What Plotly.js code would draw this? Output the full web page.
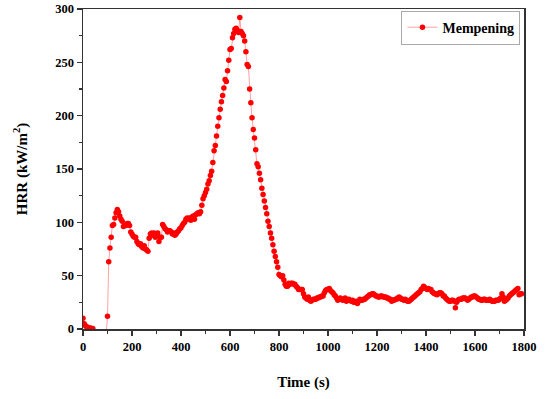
<!DOCTYPE html>
<html>
<head>
<meta charset="utf-8">
<script src="https://cdn.plot.ly/plotly-3.0.1.min.js"></script>
<style>html,body{margin:0;padding:0;background:#fff;}#chart{width:545px;height:399px;}</style>
</head>
<body>
<div id="chart"></div>
<script>
// Time step of the record (s) and start time
const timeStart = 0;
const timeStep = 5;
// HRR (kW/m^2) read every 5 s from 0 s to 1790 s (points 45-95 s lie below the axis)
const hrr = [
  10, 5, 3, 2, 1.5, 1, 1, 0.5, 0.5,
  -3, -3, -3, -3, -3, -3, -3, -3, -3, -3, -3,
  12, 63, 76, 86, 97, 98, 104, 109, 112, 110,
  106, 103, 101, 96, 97, 97, 99, 99, 97, 91,
  89, 87, 86, 86, 82, 80, 79, 80, 77, 76,
  78, 75, 74, 73, 85, 89, 90, 88, 90, 86,
  88, 90, 82, 86, 86, 98, 96, 94, 93, 91,
  92, 92, 91, 89, 90, 88, 89, 91, 92, 94,
  95, 97, 99, 100, 103, 104, 103, 104, 102, 105,
  106, 103, 107, 108, 109, 108, 110, 116, 122, 125,
  128, 131, 136, 139, 144, 148, 156, 167, 172, 181,
  190, 198, 206, 213, 219, 226, 234, 232, 242, 252,
  262, 263, 273, 277, 281, 282, 280, 278, 292, 279,
  277, 275, 270, 260, 248, 246, 225, 212, 198, 187,
  179, 168, 155, 152, 146, 140, 132, 126, 120, 114,
  108, 101, 96, 90, 85, 79, 73, 68, 63, 58,
  51, 50, 49, 50, 46, 42, 40, 40, 43, 42,
  43, 43, 42, 42, 40, 39, 37, 37, 37, 37,
  33, 30, 29, 28, 30, 27, 26, 27, 28, 28,
  28, 29, 29, 30, 30, 31, 31, 34, 36, 37,
  37, 38, 36, 35, 34, 32, 31, 29, 27, 28,
  29, 28, 27, 28, 29, 26, 27, 28, 27, 26,
  27, 25, 25, 26, 24, 26, 28, 27, 27, 28,
  28, 29, 30, 31, 32, 32, 33, 33, 32, 31,
  31, 30, 30, 31, 31, 30, 30, 30, 29, 29,
  28, 28, 26, 27, 27, 28, 28, 29, 30, 29,
  28, 28, 27, 28, 27, 26, 26, 27, 28, 29,
  30, 31, 32, 33, 34, 35, 37, 38, 40, 39,
  38, 37, 38, 37, 37, 35, 34, 33, 33, 32,
  33, 34, 34, 33, 31, 31, 29, 28, 27, 26,
  26, 27, 27, 26, 20, 25, 27, 28, 28, 28,
  29, 29, 29, 28, 27, 28, 29, 30, 30, 31,
  31, 30, 29, 28, 28, 27, 27, 28, 28, 27,
  27, 27, 28, 27, 26, 26, 26, 27, 27, 27,
  28, 29, 33, 30, 26, 27, 28, 29, 31, 32,
  33, 34, 35, 36, 37, 38, 32, 33, 33
];
const seriesName = 'Mempening';
const xTickVals = [0, 200, 400, 600, 800, 1000, 1200, 1400, 1600, 1800];
const yTickVals = [0, 50, 100, 150, 200, 250, 300];

const font = 'Liberation Serif, Times New Roman, serif';

const trace = {
  type: 'scatter',
  mode: 'lines+markers',
  name: seriesName,
  x0: timeStart,
  dx: timeStep,
  y: hrr,
  line: {color: '#ff8a8a', width: 0.8},
  marker: {color: '#ff0000', size: 5.5, line: {width: 0}},
  cliponaxis: true
};

const axisCommon = {
  showgrid: false,
  zeroline: false,
  showline: true,
  linecolor: '#333',
  linewidth: 1.5,
  mirror: true,
  ticks: 'outside',
  ticklen: 5,
  tickwidth: 1.3,
  tickcolor: '#333',
  tickfont: {family: font, size: 12.5, color: '#000', weight: 'bold'}
};

const layout = {
  width: 545,
  height: 399,
  margin: {l: 83, r: 21, t: 9, b: 70},
  paper_bgcolor: '#fff',
  plot_bgcolor: '#fff',
  font: {family: font, color: '#000'},
  showlegend: true,
  legend: {
    x: 0.992, y: 0.995, xanchor: 'right', yanchor: 'top',
    bgcolor: '#fff', bordercolor: '#aaa', borderwidth: 1,
    font: {family: font, size: 14, color: '#000', weight: 'bold'},
    itemwidth: 30, tracegroupgap: 0
  },
  xaxis: Object.assign({}, axisCommon, {
    range: [0, 1800],
    tickvals: xTickVals,
    minor: {dtick: 100, ticks: 'outside', ticklen: 3, tickwidth: 1.2, tickcolor: '#333', showgrid: false},
    title: {text: 'Time (s)', font: {family: font, size: 15, color: '#000', weight: 'bold'}, standoff: 24}
  }),
  yaxis: Object.assign({}, axisCommon, {
    range: [0, 300],
    tickvals: yTickVals,
    minor: {dtick: 25, ticks: 'outside', ticklen: 3, tickwidth: 1.2, tickcolor: '#333', showgrid: false},
    title: {text: 'HRR (kW/m<sup>2</sup>)', font: {family: font, size: 15, color: '#000', weight: 'bold'}, standoff: 24}
  })
};

Plotly.newPlot('chart', [trace], layout, {displayModeBar: false, staticPlot: true});
</script>
</body>
</html>
